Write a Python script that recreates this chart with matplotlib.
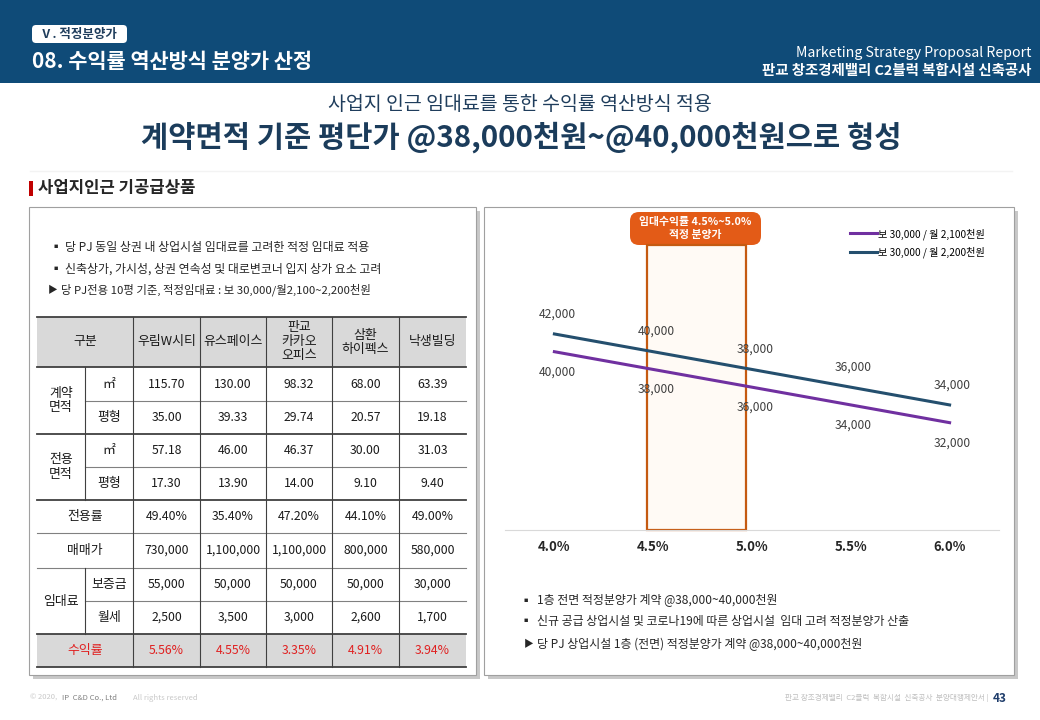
import matplotlib.pyplot as plt
from matplotlib.patches import Rectangle, FancyBboxPatch
from matplotlib.transforms import blended_transform_factory

plt.rcParams['font.family'] = ['Noto Sans CJK KR', 'DejaVu Sans']

# ---- 표 데이터 (사업지 인근 기공급상품) ----
buildings = ['우림W시티', '유스페이스', '판교\n카카오\n오피스', '삼환\n하이펙스', '낙생빌딩']
contract_m2 = [115.70, 130.00, 98.32, 68.00, 63.39]
contract_py = [35.00, 39.33, 29.74, 20.57, 19.18]
excl_m2 = [57.18, 46.00, 46.37, 30.00, 31.03]
excl_py = [17.30, 13.90, 14.00, 9.10, 9.40]
excl_ratio = [49.40, 35.40, 47.20, 44.10, 49.00]
sale_price = [730000, 1100000, 1100000, 800000, 580000]
deposit = [55000, 50000, 50000, 50000, 30000]
monthly_rent = [2500, 3500, 3000, 2600, 1700]
yield_rate = [5.56, 4.55, 3.35, 4.91, 3.94]

# ---- 그래프 데이터 ----
rates = [4.0, 4.5, 5.0, 5.5, 6.0]
price_2100 = [40000, 38000, 36000, 34000, 32000]
price_2200 = [42000, 40000, 38000, 36000, 34000]
series_labels = ['보 30,000 / 월 2,100천원', '보 30,000 / 월 2,200천원']
band = (4.5, 5.0)

NAVY = '#1f3d5c'
PURPLE = '#7030a0'
BLUE = '#244f6e'
ORANGE = '#e35b17'
TXT = '#262626'


def main():
    fig = plt.figure(figsize=(10.4, 7.2), dpi=100)
    bg = fig.add_axes([0, 0, 1, 1])
    bg.set_xlim(0, 1040)
    bg.set_ylim(720, 0)
    bg.axis('off')

    def rect(x0, y0, x1, y1, **kw):
        bg.add_patch(Rectangle((x0, y0), x1 - x0, y1 - y0, **kw))

    def txt(x, y, s, **kw):
        kw.setdefault('va', 'center')
        bg.text(x, y, s, **kw)

    # 상단 헤더
    rect(0, 0, 1040, 83, fc='#0f4b78', ec='none')
    bg.add_patch(FancyBboxPatch((32, 25), 95, 18, boxstyle='round,pad=0,rounding_size=4',
                                fc='white', ec='none'))
    txt(40, 34.5, 'Ⅴ. 적정분양가', fontsize=9, color=NAVY, fontweight='bold')
    txt(32, 62, '08. 수익률 역산방식 분양가 산정', fontsize=15, color='white', fontweight='bold')
    txt(1031, 53, 'Marketing Strategy Proposal Report', ha='right', fontsize=10.2, color='white')
    txt(1031, 71, '판교 창조경제밸리 C2블럭 복합시설 신축공사', ha='right', fontsize=10.4,
        color='white', fontweight='bold')

    txt(520, 104, '사업지 인근 임대료를 통한 수익률 역산방식 적용', ha='center', fontsize=14, color=NAVY)
    txt(521, 137, '계약면적 기준 평단가 @38,000천원~@40,000천원으로 형성', ha='center',
        fontsize=21.3, color='#1b3c5b', fontweight='bold')

    bg.plot([30, 1012], [171, 171], color='#f3f3f3', lw=1)
    rect(29, 181, 33, 196, fc='#c00000', ec='none')
    txt(38, 188.5, '사업지인근 기공급상품', fontsize=12, color=TXT, fontweight='bold')

    # 패널 (그림자 + 흰 박스)
    for x0, x1 in [(29, 476), (484, 1014)]:
        rect(x0 + 4, 211, x1 + 4, 679, fc='#c8c8c8', ec='none')
        rect(x0, 207, x1, 675, fc='white', ec='#a0a0a0', lw=0.8)

    # 왼쪽 패널 글머리
    txt(49, 247, '▪', fontsize=9, color=TXT)
    txt(65, 247, '당 PJ 동일 상권 내 상업시설 임대료를 고려한 적정 임대료 적용', fontsize=8.6, color=TXT)
    txt(49, 269, '▪', fontsize=9, color=TXT)
    txt(65, 269, '신축상가, 가시성, 상권 연속성 및 대로변코너 입지 상가 요소 고려', fontsize=8.6, color=TXT)
    txt(48, 290, '▶', fontsize=7, color=TXT)
    txt(61, 290, '당 PJ전용 10평 기준, 적정임대료 : 보 30,000/월2,100~2,200천원', fontsize=8.2, color=TXT)

    # 표
    xs = [37, 133, 200, 266, 332, 399, 466]
    ys = [317, 367, 401, 434, 467, 500, 533, 568, 601, 634, 667]
    rect(37, ys[0], 466, ys[1], fc='#d9d9d9', ec='none')
    rect(37, ys[9], 466, ys[10], fc='#d9d9d9', ec='none')

    dark = dict(color='#404040', lw=1.3)
    light = dict(color='#808080', lw=0.8)
    for y in [ys[0], ys[1], ys[3], ys[5], ys[9], ys[10]]:
        bg.plot([37, 466], [y, y], **dark)
    for y in [ys[6], ys[7]]:
        bg.plot([37, 466], [y, y], **light)
    for y in [ys[2], ys[4], ys[8]]:
        bg.plot([85, 466], [y, y], **light)
    for x in xs[1:-1]:
        bg.plot([x, x], [ys[0], ys[10]], color='#404040', lw=0.8)
    bg.plot([85, 85], [ys[1], ys[5]], color='#404040', lw=0.8)
    bg.plot([85, 85], [ys[7], ys[9]], color='#404040', lw=0.8)

    fs = 8.8
    tc = '#1a1a1a'
    txt(85, 342, '구분', ha='center', fontsize=9.3, color=tc)
    for i, name in enumerate(buildings):
        txt((xs[i + 1] + xs[i + 2]) / 2, 342, name, ha='center', fontsize=9.3, color=tc,
            linespacing=1.1)

    def mid(a, b):
        return (a + b) / 2

    txt(61, mid(ys[1], ys[3]), '계약\n면적', ha='center', fontsize=9.3, color=tc, linespacing=1.2)
    txt(61, mid(ys[3], ys[5]), '전용\n면적', ha='center', fontsize=9.3, color=tc, linespacing=1.2)
    txt(61, mid(ys[7], ys[9]), '임대료', ha='center', fontsize=9.3, color=tc)
    sub = [(1, '㎡'), (2, '평형'), (3, '㎡'), (4, '평형'), (7, '보증금'), (8, '월세')]
    for r, s in sub:
        txt(109, mid(ys[r], ys[r + 1]), s, ha='center', fontsize=9.3, color=tc)
    txt(85, mid(ys[5], ys[6]), '전용률', ha='center', fontsize=9.3, color=tc)
    txt(85, mid(ys[6], ys[7]), '매매가', ha='center', fontsize=9.3, color=tc)
    txt(85, mid(ys[9], ys[10]), '수익률', ha='center', fontsize=9.3, color='#e02020')

    rows = [
        (1, [f'{v:.2f}' for v in contract_m2], tc),
        (2, [f'{v:.2f}' for v in contract_py], tc),
        (3, [f'{v:.2f}' for v in excl_m2], tc),
        (4, [f'{v:.2f}' for v in excl_py], tc),
        (5, [f'{v:.2f}%' for v in excl_ratio], tc),
        (6, [f'{v:,}' for v in sale_price], tc),
        (7, [f'{v:,}' for v in deposit], tc),
        (8, [f'{v:,}' for v in monthly_rent], tc),
        (9, [f'{v:.2f}%' for v in yield_rate], '#e02020'),
    ]
    for r, vals, c in rows:
        for i, s in enumerate(vals):
            txt(mid(xs[i + 1], xs[i + 2]), mid(ys[r], ys[r + 1]), s, ha='center',
                fontsize=fs, color=c)

    # 오른쪽 패널: 적정 분양가 표시
    bg.add_patch(FancyBboxPatch((630, 212), 131, 33, boxstyle='round,pad=0,rounding_size=9',
                                fc=ORANGE, ec='none'))
    txt(695.5, 228.5, '임대수익률 4.5%~5.0%\n적정 분양가', ha='center', fontsize=7.8,
        color='white', fontweight='bold', linespacing=1.3)

    # 그래프
    ax = fig.add_axes([505 / 1040, 1 - 530 / 720, 494 / 1040, 318 / 720])
    ax.patch.set_alpha(0)
    for side in ['top', 'left', 'right']:
        ax.spines[side].set_visible(False)
    ax.spines['bottom'].set_color('#d9d9d9')
    ax.set_xlim(3.75, 6.25)
    ax.set_ylim(19900, 55750)
    ax.set_yticks([])
    ax.set_xticks(rates)
    ax.set_xticklabels([f'{r:.1f}%' for r in rates], fontsize=9.5, fontweight='bold', color=TXT)
    ax.tick_params(axis='x', length=0, pad=7)

    shift = -0.03
    tr = blended_transform_factory(ax.transData, ax.transAxes)
    ax.add_patch(Rectangle((band[0] + shift, 0), band[1] - band[0], 0.896, transform=tr,
                           fc='#fffaf5', ec='#c55a11', lw=1.6, clip_on=False, zorder=1))

    ax.plot(rates, price_2100, color=PURPLE, lw=2.2, label=series_labels[0], zorder=3)
    ax.plot(rates, price_2200, color=BLUE, lw=2.2, label=series_labels[1], zorder=3)
    for x, v in zip(rates, price_2200):
        ax.annotate(f'{v:,}', (x, v), xytext=(2, 14.5), textcoords='offset points',
                    ha='center', va='center', fontsize=8.7, color='#404040')
    for x, v in zip(rates, price_2100):
        ax.annotate(f'{v:,}', (x, v), xytext=(2, -14.5), textcoords='offset points',
                    ha='center', va='center', fontsize=8.7, color='#404040')

    ax.legend(loc='upper left', bbox_to_anchor=(850 / 1040, 1 - 228 / 720),
              bbox_transform=fig.transFigure, frameon=False, fontsize=7.3,
              handlelength=2.7, handletextpad=0.1, labelspacing=0.7,
              borderpad=0, borderaxespad=0)

    # 오른쪽 패널 글머리
    txt(520, 601, '▪', fontsize=9, color=TXT)
    txt(537, 601, '1층 전면 적정분양가 계약 @38,000~40,000천원', fontsize=8.6, color=TXT)
    txt(520, 622, '▪', fontsize=9, color=TXT)
    txt(537, 622, '신규 공급 상업시설 및 코로나19에 따른 상업시설  임대 고려 적정분양가 산출',
        fontsize=8.6, color=TXT)
    txt(524, 644, '▶', fontsize=7, color=TXT)
    txt(537, 644, '당 PJ 상업시설 1층 (전면) 적정분양가 계약 @38,000~40,000천원', fontsize=8.6,
        color=TXT)

    # 하단
    txt(30, 698, '© 2020,', fontsize=5.5, color='#c8c8c8')
    txt(62, 698, 'IP  C&D Co., Ltd', fontsize=5.5, color='#808080')
    txt(133, 698, 'All rights reserved', fontsize=5.5, color='#c8c8c8')
    txt(989, 698, '판교 창조경제밸리  C2블럭  복합시설  신축공사  분양대행제안서 |', ha='right',
        fontsize=5.5, color='#bfbfbf')
    txt(993, 698, '43', fontsize=8.5, color='#1f3d6b', fontweight='bold')

    fig.savefig('out.png', dpi=100)


if __name__ == '__main__':
    main()
